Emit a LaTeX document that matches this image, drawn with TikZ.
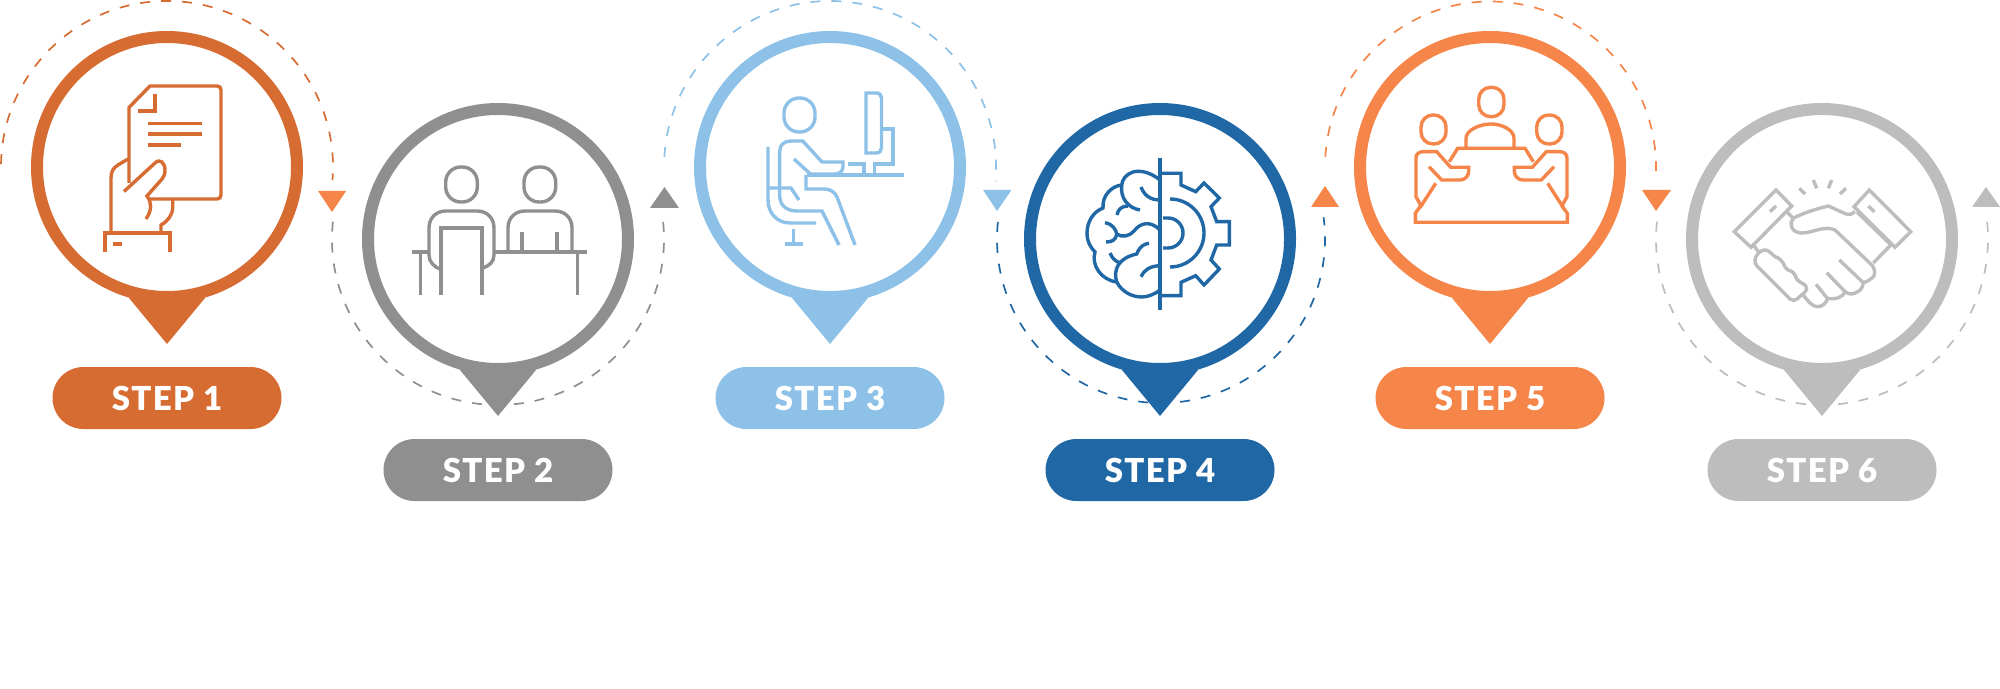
\documentclass[tikz,border=0pt]{standalone}
\usepackage{fontspec}
\setmainfont{Lato}[BoldFont=* Black]
\definecolor{cA}{HTML}{D76C33}
\definecolor{cB}{HTML}{8F8F8F}
\definecolor{cC}{HTML}{8EC1E8}
\definecolor{cD}{HTML}{2068A5}
\definecolor{cE}{HTML}{F58549}
\definecolor{cF}{HTML}{BDBDBD}
\tikzset{
  pinring/.style={circle,draw=#1,fill=white,line width=6pt,minimum size=130pt,inner sep=0pt,outer sep=0pt},
  pill/.style={rectangle,rounded corners=15.5pt,fill=#1,text=white,minimum width=114.5pt,minimum height=31pt,inner sep=0pt,
    font=\fontsize{16.5}{17}\selectfont\bfseries\addfontfeature{LetterSpace=4}},
  dasharc/.style={draw=#1,line width=0.85pt,dash pattern=on 5pt off 5.5pt},
  ico/.style={draw=#1,line width=1.7pt,line cap=butt,line join=miter},
}
\newcommand{\pinat}[4]{% name, cx, cy, colour
  \fill[#4] (#2-38,#3+131) -- (#2,#3+177) -- (#2+38,#3+131) -- cycle;
  \node[pinring=#4] (#1) at (#2,#3) {};
}
\begin{document}
\begin{tikzpicture}[x=0.5pt,y=-0.5pt]
\useasboundingbox (0,0) rectangle (2000,689);
% dashed arcs
\draw[dasharc=cA] (167,167) ++(-179:166) arc (-179:4.5:166);
\draw[dasharc=cB] (498,239) ++(186:166) arc (186:-7.6:166);
\draw[dasharc=cC] (830,167) ++(-176.5:166) arc (-176.5:5:166);
\draw[dasharc=cD] (1161,239) ++(186:164) arc (186:-7.6:164);
\draw[dasharc=cE] (1490.5,167) ++(-176.5:165.5) arc (-176.5:4.5:165.5);
\draw[dasharc=cF] (1822,239) ++(186:166) arc (186:-7.6:166);
% arrow triangles
\fill[cE] (318,191) -- (346,191) -- (332,212) -- cycle;
\fill[cB] (650,208) -- (679,208) -- (664.5,187) -- cycle;
\fill[cC] (983,190) -- (1011.5,190) -- (997,211) -- cycle;
\fill[cE] (1311,207) -- (1339,207) -- (1325,186) -- cycle;
\fill[cE] (1642,190) -- (1671,190) -- (1656,211) -- cycle;
\fill[cF] (1972,207) -- (2000,207) -- (1986,187) -- cycle;
% pins
\pinat{p1}{167}{167}{cA}
\pinat{p2}{498}{239}{cB}
\pinat{p3}{830}{167}{cC}
\pinat{p4}{1160}{239}{cD}
\pinat{p5}{1490}{167}{cE}
\pinat{p6}{1822}{239}{cF}
% labels
\node[pill=cA] (s1) at (167,398) {STEP 1};
\node[pill=cB] (s2) at (498,470) {STEP 2};
\node[pill=cC] (s3) at (830,398) {STEP 3};
\node[pill=cD] (s4) at (1160,470) {STEP 4};
\node[pill=cE] (s5) at (1490,398) {STEP 5};
\node[pill=cF] (s6) at (1822,470) {STEP 6};
% icon 1: document in hand
\begin{scope}[ico=cA]
\draw (129,183) -- (129,107.5) -- (150,86) -- (217,86) .. controls (219.5,86) and (221,87.5) .. (221,90) -- (221,195) .. controls (221,197.5) and (219.5,199) .. (217,199) -- (150,199);
\draw (138,111) -- (155,111) -- (155,94);
\draw (148,123.5) -- (202,123.5) (148,134) -- (202,134) (148,145) -- (180.5,145);
\draw (128,159) -- (118,165) .. controls (113,168) and (111,172) .. (111,178) -- (111,234);
\draw (124,191.5) -- (155,163) .. controls (160,158) and (165,163) .. (165,170) .. controls (165,174) and (164,177) .. (162,179) -- (147,196) .. controls (152,203) and (152,210) .. (146,219);
\draw (172.7,199) -- (172.7,207) .. controls (172.7,215) and (168,221) .. (161,225) -- (161,233);
\draw (105,252) -- (105,233) -- (170,233) -- (170,252);
\draw (113,244) -- (122,244);
\end{scope}
% icon 2: two people at table
\begin{scope}[ico=cB]
\draw[rounded corners=7.5pt] (445.7,167) rectangle (477.3,202);
\draw[rounded corners=7.5pt] (524,167) rectangle (555.7,202);
\draw (441,269.5) .. controls (434,267) and (429,262) .. (429,255) -- (429,228) .. controls (429,218) and (436,211) .. (446,211) -- (477,211) .. controls (487,211) and (494,218) .. (494,228) -- (494,255) .. controls (494,262) and (489,266) .. (482.7,268);
\draw (441,295) -- (441,228) -- (482,228) -- (482,295);
\draw (412,252) -- (429,252) (494,252) -- (587,252);
\draw (420.7,254) -- (420.7,295) (577.7,254) -- (577.7,295);
\draw (508,252) -- (508,228) .. controls (508,218) and (515,211) .. (525,211) -- (555,211) .. controls (565,211) and (572,218) .. (572,228) -- (572,252);
\draw (522,232) -- (522,252) (557,232) -- (557,252);
\end{scope}
% icon 3: person at computer
\begin{scope}[ico=cC]
\draw[rounded corners=7.5pt] (784,98) rectangle (815,132);
\draw (866,93) -- (876,93) .. controls (879.5,93) and (881.5,95) .. (881.5,98) -- (881.5,148) .. controls (881.5,151) and (879.5,153) .. (876,153) -- (866,153) -- cycle;
\draw (881.5,129) -- (893,129) -- (893,164) -- (874.6,164) -- (874.6,175);
\draw (848,164) -- (864,164) -- (864,175);
\draw (806.5,175) -- (904,175);
\draw (806,175) -- (806,189) -- (824,189) .. controls (830,189) and (835,192) .. (837,197) -- (855,245);
\draw (839,245) -- (822,211) -- (797,211) .. controls (786,211) and (779.6,205) .. (779.6,195) -- (779.6,152) .. controls (779.6,145) and (784,141) .. (791,141) -- (802.7,141) -- (822,162) -- (843,162) -- (843,166) .. controls (843,170) and (841,174) .. (835,174);
\draw (794,159) -- (810.4,174) -- (836,174);
\draw (768,147) -- (768,200) .. controls (768,213) and (777,223) .. (790,223) -- (816,223);
\draw (768,188) -- (791,188) -- (799,200);
\draw (793.5,229) -- (793.5,244) (784.6,244) -- (803,244);
\end{scope}
% icon 4: brain and gear
\begin{scope}[ico=cD]
\draw (1160,158) -- (1160,310);
\draw (1160,173.3) -- (1181,173.3) -- (1181,185) -- (1195.7,191.7) -- (1204,183) -- (1219.3,198) -- (1211,206.7) -- (1216.7,221.7) -- (1229.3,221.7) -- (1229.3,245) -- (1216.7,245) -- (1211,260) -- (1219.3,269) -- (1204,285) -- (1195.7,275.7) -- (1181,282.3) -- (1181,295.7) -- (1160,295.7);
\draw (1170,199) arc (-90:90:34);
\draw (1163,218) -- (1168,218) arc (-90:90:15) -- (1163,248);
\draw (1160,180) .. controls (1150,172) and (1140,170) .. (1133,172) .. controls (1126,174) and (1122,180) .. (1121.7,185) .. controls (1112,186) and (1102,195) .. (1103,208) .. controls (1093,212) and (1087,222) .. (1087,233) .. controls (1087,242) and (1091,248) .. (1095,252) .. controls (1091,265) and (1101,280) .. (1116.7,282) .. controls (1122,292) and (1132,297) .. (1142,297) .. controls (1148,297) and (1155,294) .. (1160,290);
\draw (1121.7,185) .. controls (1120,198) and (1128,208) .. (1140,210);
\draw (1117,215) .. controls (1118,209) and (1122,206) .. (1128,206);
\draw (1141,187) .. controls (1144,195) and (1150,200) .. (1160,200);
\draw (1105,222.7) .. controls (1113,224) and (1116,230) .. (1116.7,234) .. controls (1116,240) and (1112,242) .. (1106,242);
\draw (1116.7,234) .. controls (1122,238) and (1130,236) .. (1134,231) .. controls (1140,223) and (1150,220) .. (1160,230);
\draw (1110,253) .. controls (1112,258) and (1115,261) .. (1120,263);
\draw (1116.7,282) .. controls (1113,270) and (1118,258) .. (1136.7,254) .. controls (1140,246) and (1144,244) .. (1149,243.3);
\draw (1141,276.7) .. controls (1144,270) and (1150,266) .. (1160,265.7);
\end{scope}
% icon 5: meeting
\begin{scope}[ico=cE]
\draw[rounded corners=6pt] (1478.7,87.3) rectangle (1504,116.7);
\draw[rounded corners=6pt] (1421,115) rectangle (1446,144);
\draw[rounded corners=6pt] (1536.7,115) rectangle (1562,144);
\draw (1466,148.3) -- (1466,138.3) .. controls (1466,130) and (1480,124) .. (1491,124) .. controls (1502,124) and (1514,130) .. (1514,138.3) -- (1514,148.3);
\draw (1449.3,161.7) -- (1457.7,148.3) -- (1525,148.3) -- (1533.3,161.7);
\draw (1420.7,205.7) -- (1415.3,213.3) -- (1415.3,222.3) -- (1567.3,222.3) -- (1567.3,213.3) -- (1561.7,205.7);
\draw (1435.7,183.3) -- (1420,207.7) (1547.7,183.3) -- (1563.3,207.7);
\draw (1421,205.7) -- (1416,196.7) -- (1416,158) .. controls (1416,154) and (1419,151.7) .. (1423.3,151.7) -- (1436.7,151.7) -- (1450.7,167.3) -- (1468.7,167.3) -- (1468.7,171) .. controls (1468.7,176) and (1465,180) .. (1460,180) -- (1441.7,180) -- (1429,166.7);
\draw (1562,205.7) -- (1567,196.7) -- (1567,158) .. controls (1567,154) and (1564,151.7) .. (1559.7,151.7) -- (1546.3,151.7) -- (1532.3,167.3) -- (1514.3,167.3) -- (1514.3,171) .. controls (1514.3,176) and (1518,180) .. (1523,180) -- (1541.3,180) -- (1554,166.7);
\end{scope}
% icon 6: handshake
\begin{scope}[ico=cF]
\draw (1776,190) -- (1791.7,206) -- (1751,247.3) -- (1734.3,231.7) -- cycle;
\draw (1770,211.7) -- (1776,206);
\draw (1869.3,190) -- (1910.7,231.7) -- (1895,247.3) -- (1854,206.7) -- cycle;
\draw (1868.3,206) -- (1874.3,211.7);
\draw (1799.3,188.3) -- (1805,194) (1813.3,180) -- (1816.7,188.3) (1831.7,180) -- (1828.3,188.3) (1846,188.3) -- (1840,194);
\draw (1786.7,211.7) -- (1793.3,218.3);
\draw (1793.3,218.3) .. controls (1805,212) and (1820,208) .. (1828.3,206) -- (1846,214) .. controls (1850,215) and (1853,214) .. (1855,211.7);
\draw (1857,212) -- (1892,246);
\draw (1891.7,244) -- (1873.3,263);
\draw (1793.3,219) .. controls (1788,224) and (1792,233) .. (1802,233) .. controls (1812,233) and (1825,225) .. (1835,230) -- (1870,263.3) .. controls (1876,268) and (1876,276) .. (1871.7,278.3) .. controls (1868,281) and (1866,282) .. (1863.3,282.7);
\draw (1839.3,260) -- (1863.3,282.7) .. controls (1863,288) and (1860,292) .. (1852,294) .. controls (1849,294.5) and (1847,293) .. (1845,291.7);
\draw (1826.7,272.7) -- (1845,291.7) .. controls (1843,297) and (1836,300) .. (1827,298.3);
\draw (1816,284.3) -- (1827.3,298.3) .. controls (1827,303) and (1822,307) .. (1817,306.7) .. controls (1813,306) and (1810,304) .. (1803.3,295);
\draw (1758.3,253.3) .. controls (1761,250) and (1766,249) .. (1768.3,251) .. controls (1771,252) and (1772,255) .. (1775,256.7) .. controls (1779,258) and (1781,260) .. (1783.3,263.3) .. controls (1785,267) and (1786,269) .. (1788,270) .. controls (1792,271) and (1794,273) .. (1795,275) .. controls (1796,279) and (1798,281) .. (1800,282) -- (1805,285) .. controls (1807,288) and (1807,291) .. (1805,292) -- (1797,299) .. controls (1795,301) and (1792,301) .. (1790,299) -- (1757,266) .. controls (1754,263) and (1754,258) .. (1758.3,253.3);
\draw (1753.3,245) -- (1758.3,251.7);
\end{scope}
\end{tikzpicture}
\end{document}
